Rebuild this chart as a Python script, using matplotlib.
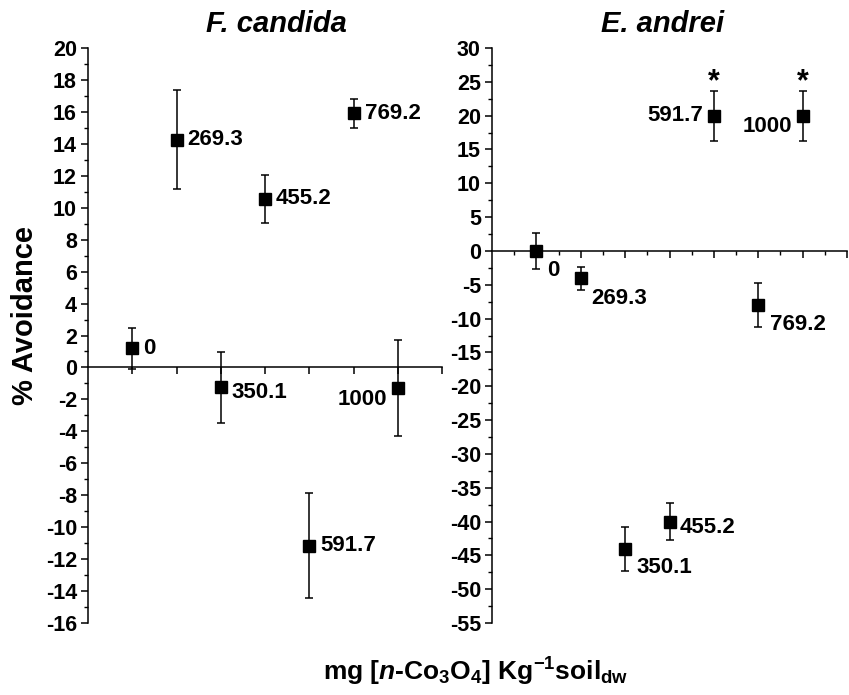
import matplotlib
matplotlib.use("Agg")
import matplotlib.pyplot as plt
from matplotlib.ticker import MultipleLocator, NullFormatter, FixedLocator

plt.rcParams['font.family'] = ['Liberation Sans', 'DejaVu Sans']
plt.rcParams['font.weight'] = 'bold'
plt.rcParams['mathtext.fontset'] = 'custom'
plt.rcParams['mathtext.rm'] = 'Liberation Sans:bold'
plt.rcParams['mathtext.bf'] = 'Liberation Sans:bold'
plt.rcParams['mathtext.it'] = 'Liberation Sans:bold:italic'

# ---- data ----
doses = ["0", "269.3", "350.1", "455.2", "591.7", "769.2", "1000"]
positions = [1, 2, 3, 4, 5, 6, 7]

fc_values = [1.2, 14.25, -1.25, 10.55, -11.15, 15.9, -1.3]
fc_errors = [1.3, 3.1, 2.2, 1.5, 3.3, 0.9, 3.0]

ea_values = [0.0, -4.0, -44.0, -40.0, 20.0, -8.0, 20.0]
ea_errors = [2.6, 1.7, 3.25, 2.75, 3.7, 3.3, 3.7]
ea_significant = [False, False, False, False, True, False, True]
star_level = 26.0

fc_yticks = list(range(-16, 21, 2))
ea_yticks = list(range(-55, 31, 5))

# ---- label layout (pixel offsets and alignment) ----
fc_label_off = [(11, 0), (11, 0), (11, -5), (11, 0), (11, 0), (11, 0), (-11, -11)]
fc_label_ha = ['left', 'left', 'left', 'left', 'left', 'left', 'right']
ea_label_off = [(11, -20), (11, -20), (11, -19), (10, -6), (-11, 0), (12, -19), (-11, -11)]
ea_label_ha = ['left', 'left', 'left', 'left', 'right', 'left', 'right']

fig = plt.figure(figsize=(8.49, 6.95), dpi=100)
ax1 = fig.add_axes([88/849, 1-623/695, 354/849, 575/695])
ax2 = fig.add_axes([492/849, 1-623/695, 355/849, 575/695])


def style(ax, ylim, ticks, minor, xminor):
    ax.set_xlim(0, 8)
    ax.set_ylim(*ylim)
    for s in ['top', 'right']:
        ax.spines[s].set_visible(False)
    ax.spines['bottom'].set_position(('data', 0))
    for s in ['left', 'bottom']:
        ax.spines[s].set_linewidth(1.1)
    ax.xaxis.set_major_locator(FixedLocator([1, 2, 3, 4, 5, 6, 7, 8]))
    ax.xaxis.set_major_formatter(NullFormatter())
    if xminor:
        ax.xaxis.set_minor_locator(FixedLocator([0.5, 1.5, 2.5, 3.5, 4.5, 5.5, 6.5, 7.5]))
    ax.set_yticks(ticks)
    ax.set_yticklabels([str(v) for v in ticks], fontweight='bold')
    ax.yaxis.set_minor_locator(MultipleLocator(minor))
    ax.tick_params(axis='both', which='major', direction='out', length=5, width=1.1,
                   labelsize=15.5, pad=3)
    ax.tick_params(axis='both', which='minor', direction='out', length=3, width=1.0)


style(ax1, (-16, 20), fc_yticks, 1, False)
style(ax2, (-55, 30), ea_yticks, 2.5, True)

for ax, vals, errs, offs, has in [(ax1, fc_values, fc_errors, fc_label_off, fc_label_ha),
                                  (ax2, ea_values, ea_errors, ea_label_off, ea_label_ha)]:
    ax.errorbar(positions, vals, yerr=errs, fmt='s', color='black', ms=8.5,
                elinewidth=1.1, capsize=3.2, capthick=1.1, zorder=3, clip_on=False)
    for x, y, lab, off, ha in zip(positions, vals, doses, offs, has):
        ax.annotate(lab, (x, y), xytext=off, textcoords='offset pixels',
                    ha=ha, va='center', fontsize=16, fontweight='bold')

for x, sig in zip(positions, ea_significant):
    if sig:
        ax2.annotate('*', (x, star_level), xytext=(0, -7), textcoords='offset pixels',
                     ha='center', va='center', fontsize=22, fontweight='bold')

fig.text(276/849, 1-24/695, 'F. candida', ha='center', va='center', fontsize=21,
         fontweight='bold', fontstyle='italic')
fig.text(663/849, 1-24/695, 'E. andrei', ha='center', va='center', fontsize=21,
         fontweight='bold', fontstyle='italic')

fig.text(25/849, 1-315/695, '% Avoidance', rotation=90, ha='center', va='center',
         fontsize=21, fontweight='bold')

fig.text(476/849, 1-672/695,
         r'mg [$\mathit{n}$-Co$_{3}$O$_{4}$] Kg$^{-1}$soil$_{\mathrm{dw}}$',
         ha='center', va='center', fontsize=19, fontweight='bold')

fig.savefig('out.png', dpi=100)
